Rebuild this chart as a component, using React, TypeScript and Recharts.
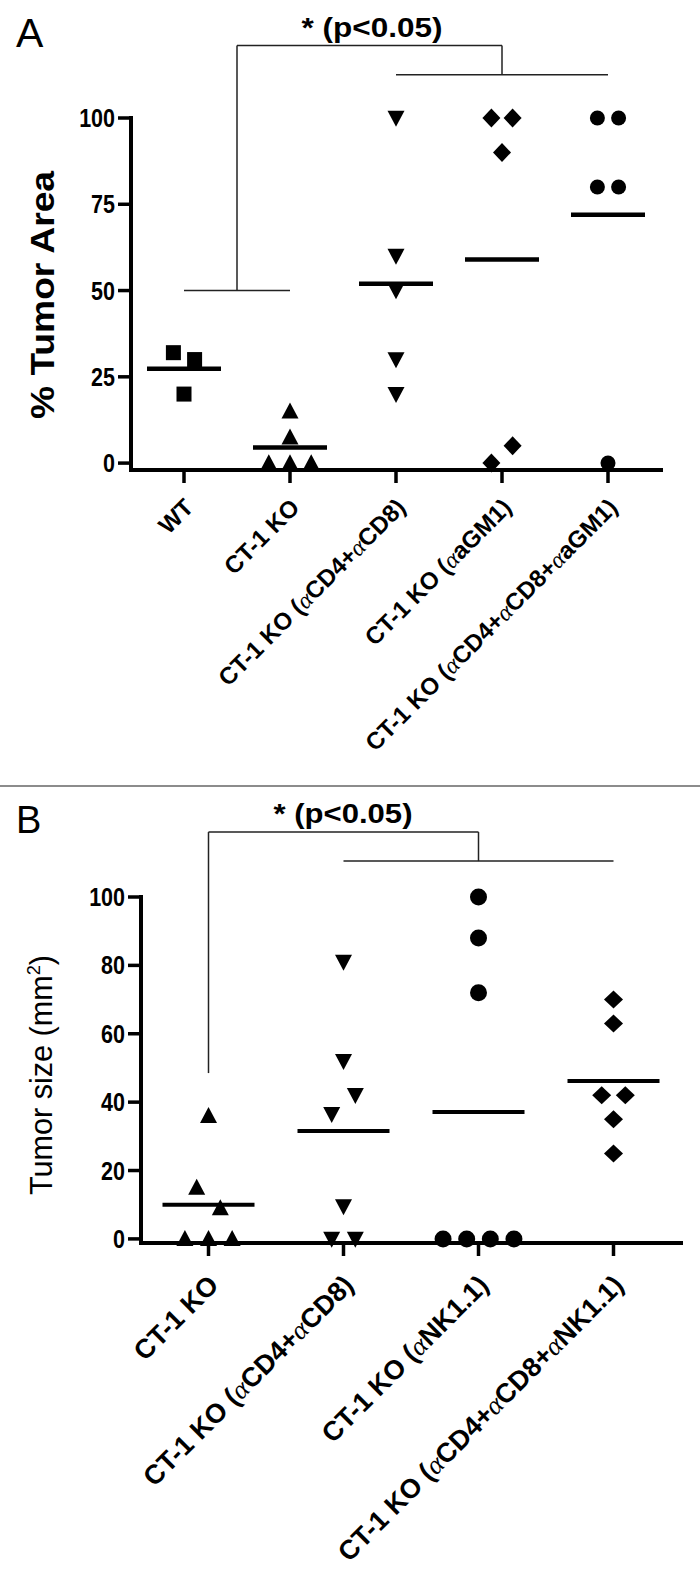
import React from 'react';
import { ScatterChart, Scatter, XAxis, YAxis, ReferenceLine } from 'recharts';

const FONT = '"Liberation Sans", Arial, sans-serif';

// ---------- Panel A data ----------
const catsA = ['WT', 'CT-1 KO', 'CT-1 KO (αCD4+αCD8)', 'CT-1 KO (αaGM1)', 'CT-1 KO (αCD4+αCD8+αaGM1)'];
const wtA = [32, 30, 20];
const koA = [15, 7.5, 0, 0, 0];
const koCd48A = [100, 60, 50, 30, 20];
const koGm1A = [100, 100, 90, 0, 5];
const koAllA = [100, 100, 80, 80, 0];
const ticksA = [0, 25, 50, 75, 100];

// ---------- Panel B data ----------
const catsB = ['CT-1 KO', 'CT-1 KO (αCD4+αCD8)', 'CT-1 KO (αNK1.1)', 'CT-1 KO (αCD4+αCD8+αNK1.1)'];
const koB = [36, 15, 9, 0, 0, 0];
const koCd48B = [81, 52, 36.5, 42, 9.5, 0, 0];
const koNkB = [100, 88, 72, 0, 0, 0, 0];
const koAllB = [70, 63, 42, 42, 35, 25];
const ticksB = [0, 20, 40, 60, 80, 100];

// significance brackets (data coordinates)
const bracketA = { top: 121, low: 112.5, leftX: 1.5, rightX: 4, leftBase: 50, leftSpan: [1, 2], rightSpan: [3, 5] };
const bracketB = { top: 119, low: 110.5, leftX: 1, rightX: 3, leftBase: 48.5, rightSpan: [2, 4] };

// ---------- helpers ----------
const mean = (a: number[]) => a.reduce((s, v) => s + v, 0) / a.length;

// column-scatter layout: points whose values are close vertically are spread sideways
function layoutGroup(values: number[], idx: number, pxPerUnit: number, thresholdPx: number, step: number) {
  const order = values.map((_, i) => i).sort((a, b) => values[a] - values[b]);
  const clusters: number[][] = [];
  let cur = [order[0]];
  for (let k = 1; k < order.length; k++) {
    if ((values[order[k]] - values[order[k - 1]]) * pxPerUnit < thresholdPx) cur.push(order[k]);
    else { clusters.push(cur); cur = [order[k]]; }
  }
  clusters.push(cur);
  const pts: { x: number; y: number }[] = [];
  clusters.forEach((c) => {
    c.sort((a, b) => a - b);
    c.forEach((i, j) => pts.push({ x: idx + (j - (c.length - 1) / 2) * step, y: values[i] }));
  });
  return pts;
}

const square = (s: number) => (p: any) => (
  <rect x={p.cx - s / 2} y={p.cy - s / 2} width={s} height={s} fill="#000" />
);
const triUp = (w: number, h: number) => (p: any) => (
  <polygon points={`${p.cx},${p.cy - h * 0.55} ${p.cx - w / 2},${p.cy + h * 0.45} ${p.cx + w / 2},${p.cy + h * 0.45}`} fill="#000" />
);
const triDown = (w: number, h: number) => (p: any) => (
  <polygon points={`${p.cx - w / 2},${p.cy - h * 0.45} ${p.cx + w / 2},${p.cy - h * 0.45} ${p.cx},${p.cy + h * 0.55}`} fill="#000" />
);
const diamond = (w: number, h: number) => (p: any) => (
  <polygon points={`${p.cx},${p.cy - h / 2} ${p.cx + w / 2},${p.cy} ${p.cx},${p.cy + h / 2} ${p.cx - w / 2},${p.cy}`} fill="#000" />
);
const circle = (r: number) => (p: any) => <circle cx={p.cx} cy={p.cy} r={r} fill="#000" />;
const meanLine = (hw: number, sw: number) => (p: any) => (
  <line x1={p.cx - hw} x2={p.cx + hw} y1={p.cy} y2={p.cy} stroke="#000" strokeWidth={sw} />
);

function renderAlpha(text: string) {
  const parts = text.split('α');
  const out: any[] = [];
  parts.forEach((part, i) => {
    if (i > 0)
      out.push(
        <tspan key={'a' + i} fontFamily='"Liberation Serif", "DejaVu Serif", serif' fontStyle="italic" fontWeight="normal">
          α
        </tspan>
      );
    if (part) out.push(<tspan key={'t' + i}>{part}</tspan>);
  });
  return out;
}

const makeXTick = (labels: string[], fs: number, dyOff: number) => (props: any) => {
  const { x, y, payload } = props;
  const label = labels[Math.round(payload.value) - 1] || '';
  return (
    <g transform={`translate(${x + 5},${y + dyOff})`}>
      <text transform="rotate(-45)" textAnchor="end" fontSize={fs} fontWeight="bold" fontFamily={FONT} fill="#000" dy="0.35em">
        {renderAlpha(label)}
      </text>
    </g>
  );
};

const YTick = (props: any) => {
  const { x, y, payload } = props;
  return (
    <g transform={`translate(${x},${y}) scale(0.86,1)`}>
      <text textAnchor="end" fontSize={25} fontWeight="bold" fontFamily={FONT} fill="#000" dy="0.36em">
        {payload.value}
      </text>
    </g>
  );
};

const AX = { stroke: '#000', strokeWidth: 4, strokeLinecap: 'square' as const };
const TL = { stroke: '#000', strokeWidth: 3.5 };
const BR = { stroke: '#222', strokeWidth: 1.5 };

// ---------- computed series ----------
const PXA = 3.45, PXB = 3.42;
const ptsA = [wtA, koA, koCd48A, koGm1A, koAllA].map((g, i) => layoutGroup(g, i + 1, PXA, 22, 0.2));
const meansA = [wtA, koA, koCd48A, koGm1A, koAllA].map((g, i) => ({ x: i + 1, y: mean(g) }));
const ptsB = [koB, koCd48B, koNkB, koAllB].map((g, i) => layoutGroup(g, i + 1, PXB, 22, 0.175));
const meansB = [koB, koCd48B, koNkB, koAllB].map((g, i) => ({ x: i + 1, y: mean(g) }));

function PanelA() {
  const shapes = [square(15), triUp(17, 16), triDown(17, 16), diamond(18, 19), circle(7.5)];
  const b = bracketA;
  return (
    <ScatterChart width={700} height={786} margin={{ top: 118, right: 39, bottom: 16, left: 41 }}>
      <XAxis type="number" dataKey="x" domain={[0.5, 5.5]} ticks={[1, 2, 3, 4, 5]} interval={0} height={300}
        axisLine={AX} tickLine={TL} tickSize={13} tick={makeXTick(catsA, 24, 18)} />
      <YAxis type="number" dataKey="y" domain={[-2, 100]} ticks={ticksA} interval={0} width={90}
        axisLine={AX} tickLine={TL} tickSize={13} tickMargin={3} tick={<YTick />} />
      <ReferenceLine ifOverflow="visible" segment={[{ x: b.leftX, y: b.top }, { x: b.rightX, y: b.top }]} {...BR} />
      <ReferenceLine ifOverflow="visible" segment={[{ x: b.leftX, y: b.leftBase }, { x: b.leftX, y: b.top }]} {...BR} />
      <ReferenceLine ifOverflow="visible" segment={[{ x: b.leftSpan[0], y: b.leftBase }, { x: b.leftSpan[1], y: b.leftBase }]} {...BR} />
      <ReferenceLine ifOverflow="visible" segment={[{ x: b.rightX, y: b.low }, { x: b.rightX, y: b.top }]} {...BR} />
      <ReferenceLine ifOverflow="visible" segment={[{ x: b.rightSpan[0], y: b.low }, { x: b.rightSpan[1], y: b.low }]} {...BR} />
      {ptsA.map((pts, i) => (
        <Scatter key={i} data={pts} shape={shapes[i]} isAnimationActive={false} />
      ))}
      <Scatter data={meansA} shape={meanLine(37, 4.5)} isAnimationActive={false} />
    </ScatterChart>
  );
}

function PanelB() {
  const shapes = [triUp(17, 16), triDown(17, 16), circle(8.5), diamond(19, 18)];
  const b = bracketB;
  return (
    <ScatterChart width={700} height={791} margin={{ top: 111, right: 19, bottom: 14, left: 41 }}>
      <XAxis type="number" dataKey="x" domain={[0.5, 4.5]} ticks={[1, 2, 3, 4]} interval={0} height={320}
        axisLine={AX} tickLine={TL} tickSize={13} tick={makeXTick(catsB, 27, 22)} />
      <YAxis type="number" dataKey="y" domain={[-1.2, 100]} ticks={ticksB} interval={0} width={100}
        axisLine={AX} tickLine={TL} tickSize={13} tickMargin={3} tick={<YTick />} />
      <ReferenceLine ifOverflow="visible" segment={[{ x: b.leftX, y: b.top }, { x: b.rightX, y: b.top }]} {...BR} />
      <ReferenceLine ifOverflow="visible" segment={[{ x: b.leftX, y: b.leftBase }, { x: b.leftX, y: b.top }]} {...BR} />
      <ReferenceLine ifOverflow="visible" segment={[{ x: b.rightX, y: b.low }, { x: b.rightX, y: b.top }]} {...BR} />
      <ReferenceLine ifOverflow="visible" segment={[{ x: b.rightSpan[0], y: b.low }, { x: b.rightSpan[1], y: b.low }]} {...BR} />
      {ptsB.map((pts, i) => (
        <Scatter key={i} data={pts} shape={shapes[i]} isAnimationActive={false} />
      ))}
      <Scatter data={meansB} shape={meanLine(46, 4)} isAnimationActive={false} />
    </ScatterChart>
  );
}

export default function App() {
  return (
    <div style={{ position: 'absolute', left: 0, top: 0, width: 700, height: 1577, background: '#fff' }}>
      <div style={{ position: 'absolute', left: 0, top: 0 }}>
        <PanelA />
      </div>
      <div style={{ position: 'absolute', left: 0, top: 786 }}>
        <PanelB />
      </div>
      <svg width={700} height={1577} style={{ position: 'absolute', left: 0, top: 0, pointerEvents: 'none' }}>
        <line x1={0} x2={700} y1={786} y2={786} stroke="#8c8c8c" strokeWidth={2} />
        <text x={16} y={47} fontSize={41} fontFamily={FONT} fill="#000">A</text>
        <text x={16} y={833} fontSize={38} fontFamily={FONT} fill="#000">B</text>
        <text x={372} y={37} textAnchor="middle" fontSize={28} fontWeight="bold" fontFamily={FONT} fill="#000"
          textLength={141} lengthAdjust="spacingAndGlyphs">* (p&lt;0.05)</text>
        <text x={343} y={823} textAnchor="middle" fontSize={28} fontWeight="bold" fontFamily={FONT} fill="#000"
          textLength={139} lengthAdjust="spacingAndGlyphs">* (p&lt;0.05)</text>
        <text transform="translate(54,295) rotate(-90)" textAnchor="middle" fontSize={33} fontWeight="bold" fontFamily={FONT} fill="#000"
          textLength={248} lengthAdjust="spacingAndGlyphs">
          % Tumor Area
        </text>
        <text transform="translate(52,1075) rotate(-90)" textAnchor="middle" fontSize={32} fontFamily={FONT} fill="#000"
          textLength={240} lengthAdjust="spacingAndGlyphs">
          Tumor size (mm<tspan dy={-12} fontSize={19}>2</tspan><tspan dy={12}>)</tspan>
        </text>
      </svg>
    </div>
  );
}
